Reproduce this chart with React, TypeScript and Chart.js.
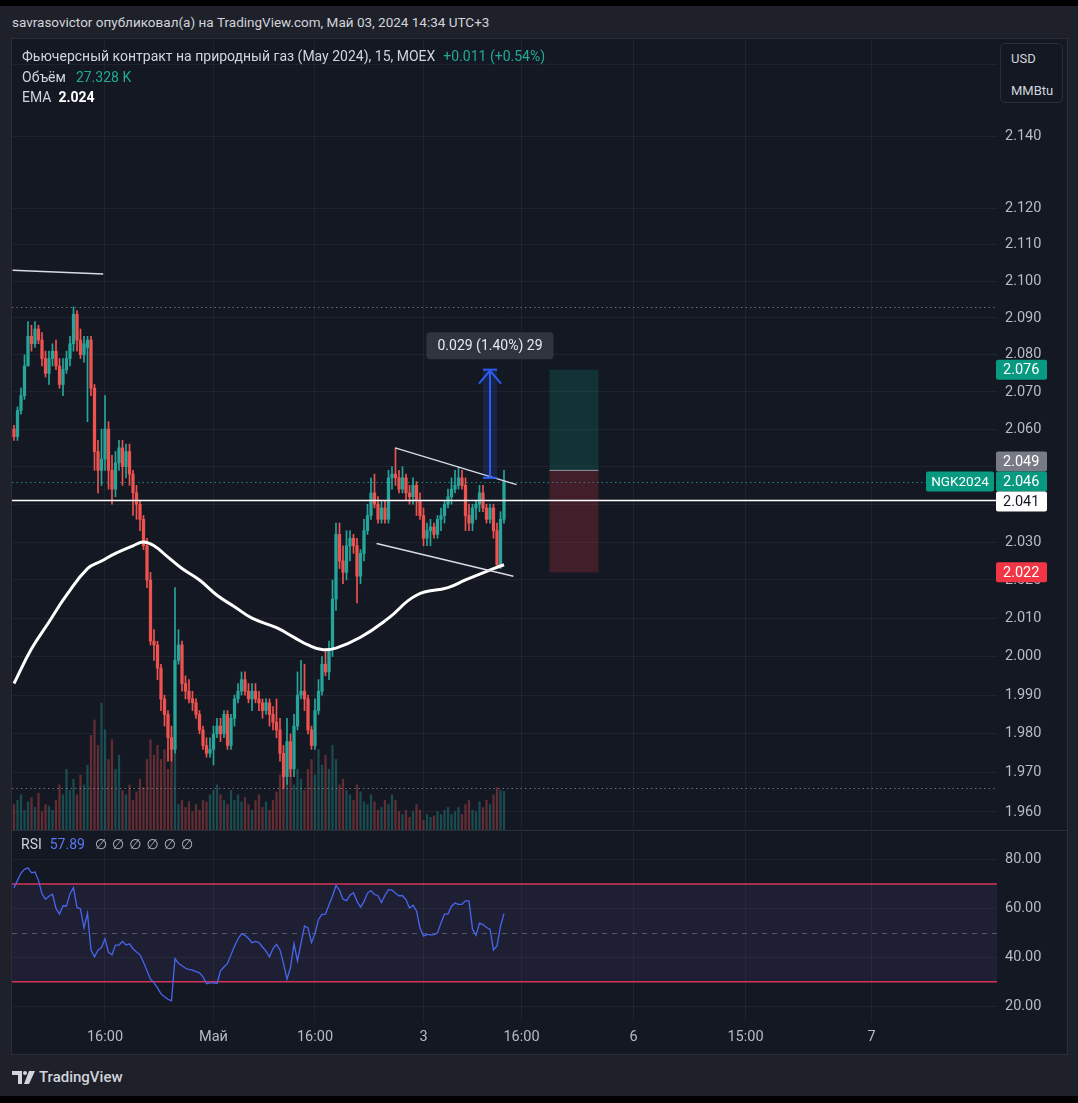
import React, { useEffect, useRef } from "react";
import { Chart, registerables } from "chart.js";

Chart.register(...registerables);

const FONT = "Roboto, 'Noto Sans', 'DejaVu Sans', sans-serif";

// ---------- DATA ----------
// 15-minute candles, [open, high, low, close]
const candles: [number, number, number, number][] = [
  [2.060, 2.061, 2.057, 2.058], [2.058, 2.066, 2.057, 2.065], [2.065, 2.071, 2.064, 2.069], [2.069, 2.080, 2.068, 2.077],
  [2.077, 2.089, 2.077, 2.085], [2.085, 2.088, 2.081, 2.083], [2.083, 2.089, 2.082, 2.087], [2.087, 2.088, 2.083, 2.084],
  [2.084, 2.086, 2.077, 2.079], [2.079, 2.081, 2.074, 2.075], [2.075, 2.081, 2.072, 2.079], [2.079, 2.083, 2.077, 2.081],
  [2.081, 2.084, 2.076, 2.077], [2.077, 2.079, 2.071, 2.072], [2.072, 2.079, 2.069, 2.076], [2.076, 2.081, 2.075, 2.079],
  [2.079, 2.085, 2.077, 2.083], [2.083, 2.093, 2.081, 2.091], [2.091, 2.092, 2.081, 2.084], [2.084, 2.087, 2.079, 2.080],
  [2.080, 2.085, 2.078, 2.083], [2.082, 2.085, 2.062, 2.084], [2.084, 2.085, 2.069, 2.071], [2.071, 2.072, 2.049, 2.054],
  [2.054, 2.057, 2.043, 2.049], [2.049, 2.060, 2.045, 2.052], [2.052, 2.069, 2.049, 2.060], [2.060, 2.062, 2.044, 2.049],
  [2.049, 2.053, 2.040, 2.044], [2.044, 2.054, 2.042, 2.051], [2.051, 2.057, 2.049, 2.055], [2.055, 2.057, 2.045, 2.050],
  [2.050, 2.056, 2.047, 2.054], [2.054, 2.056, 2.045, 2.048], [2.048, 2.049, 2.037, 2.043], [2.043, 2.045, 2.036, 2.040],
  [2.040, 2.041, 2.033, 2.036], [2.036, 2.037, 2.028, 2.029], [2.029, 2.031, 2.018, 2.020], [2.020, 2.022, 2.003, 2.004],
  [2.004, 2.007, 1.999, 2.003], [2.003, 2.004, 1.994, 1.997], [1.997, 1.998, 1.986, 1.989], [1.989, 1.990, 1.982, 1.985],
  [1.985, 1.986, 1.973, 1.979], [1.979, 1.982, 1.973, 1.976], [1.976, 2.018, 1.975, 1.999], [1.999, 2.007, 1.998, 2.003],
  [2.003, 2.004, 1.991, 1.993], [1.993, 1.995, 1.989, 1.991], [1.991, 1.994, 1.988, 1.989], [1.989, 1.991, 1.986, 1.988],
  [1.988, 1.989, 1.984, 1.985], [1.985, 1.986, 1.980, 1.981], [1.981, 1.982, 1.976, 1.977], [1.977, 1.979, 1.974, 1.975],
  [1.975, 1.979, 1.974, 1.976], [1.976, 1.982, 1.972, 1.980], [1.980, 1.984, 1.979, 1.982], [1.982, 1.984, 1.978, 1.980],
  [1.980, 1.986, 1.979, 1.985], [1.985, 1.986, 1.976, 1.977], [1.977, 1.985, 1.976, 1.984], [1.984, 1.990, 1.982, 1.989],
  [1.989, 1.993, 1.988, 1.991], [1.991, 1.996, 1.990, 1.994], [1.994, 1.996, 1.990, 1.991], [1.991, 1.993, 1.988, 1.989],
  [1.989, 1.993, 1.986, 1.991], [1.991, 1.993, 1.988, 1.989], [1.989, 1.991, 1.986, 1.988], [1.988, 1.989, 1.984, 1.986],
  [1.986, 1.989, 1.985, 1.988], [1.988, 1.989, 1.982, 1.985], [1.985, 1.987, 1.981, 1.983], [1.983, 1.989, 1.979, 1.981],
  [1.981, 1.984, 1.973, 1.975], [1.975, 1.977, 1.966, 1.969], [1.969, 1.984, 1.967, 1.978], [1.978, 1.980, 1.969, 1.971],
  [1.971, 1.985, 1.969, 1.982], [1.982, 1.996, 1.981, 1.990], [1.990, 1.999, 1.989, 1.991], [1.991, 1.998, 1.986, 1.989],
  [1.989, 1.990, 1.980, 1.981], [1.981, 1.982, 1.976, 1.977], [1.977, 1.989, 1.976, 1.986], [1.986, 1.994, 1.985, 1.991],
  [1.991, 2.000, 1.990, 1.998], [1.998, 2.002, 1.995, 1.996], [1.996, 2.004, 1.994, 2.002], [2.002, 2.020, 2.000, 2.015],
  [2.015, 2.035, 2.012, 2.032], [2.032, 2.035, 2.023, 2.025], [2.025, 2.029, 2.019, 2.022], [2.022, 2.033, 2.020, 2.029],
  [2.029, 2.033, 2.025, 2.031], [2.031, 2.032, 2.027, 2.029], [2.029, 2.031, 2.014, 2.021], [2.021, 2.028, 2.019, 2.027],
  [2.027, 2.036, 2.025, 2.033], [2.033, 2.040, 2.032, 2.037], [2.037, 2.047, 2.036, 2.043], [2.043, 2.048, 2.039, 2.040],
  [2.040, 2.042, 2.035, 2.036], [2.036, 2.041, 2.035, 2.039], [2.039, 2.041, 2.035, 2.036], [2.036, 2.049, 2.035, 2.047],
  [2.047, 2.050, 2.044, 2.048], [2.048, 2.055, 2.045, 2.047], [2.047, 2.049, 2.043, 2.044], [2.044, 2.050, 2.043, 2.047],
  [2.047, 2.048, 2.041, 2.043], [2.043, 2.045, 2.040, 2.042], [2.042, 2.047, 2.040, 2.045], [2.045, 2.046, 2.037, 2.041],
  [2.041, 2.043, 2.036, 2.037], [2.037, 2.039, 2.029, 2.031], [2.031, 2.035, 2.029, 2.033], [2.033, 2.036, 2.029, 2.034],
  [2.034, 2.035, 2.031, 2.032], [2.032, 2.037, 2.031, 2.036], [2.036, 2.039, 2.033, 2.037], [2.037, 2.041, 2.035, 2.040],
  [2.040, 2.044, 2.039, 2.042], [2.042, 2.047, 2.040, 2.044], [2.044, 2.049, 2.043, 2.045], [2.045, 2.050, 2.044, 2.047],
  [2.047, 2.049, 2.044, 2.045], [2.045, 2.047, 2.033, 2.037], [2.037, 2.040, 2.033, 2.035], [2.035, 2.040, 2.033, 2.039],
  [2.039, 2.041, 2.036, 2.040], [2.040, 2.045, 2.038, 2.043], [2.043, 2.045, 2.038, 2.039], [2.039, 2.040, 2.035, 2.036],
  [2.036, 2.040, 2.035, 2.039], [2.039, 2.040, 2.031, 2.033], [2.033, 2.035, 2.023, 2.024], [2.024, 2.038, 2.023, 2.036],
  [2.036, 2.049, 2.035, 2.046],
];

// volume per bar, thousands
const volumesK: number[] = [
  18, 21, 25, 14, 20, 23, 16, 26, 13, 18, 17, 14,
  21, 32, 25, 43, 28, 36, 25, 39, 32, 46,
  67, 78, 60, 90, 71, 50, 64, 43, 53,
  28, 25, 32, 21, 27, 36, 30, 50,
  64, 53, 60, 50, 57, 43, 62, 70,
  18, 21, 16, 20, 13, 18, 14, 21, 20, 25,
  28, 32, 25, 21, 18, 28, 21, 25, 20, 23,
  18, 14, 21, 25, 16, 20, 14, 21, 27,
  39, 46, 36, 53, 32, 43, 36, 28,
  43, 50, 39, 57, 46, 53, 43, 60, 50,
  32, 36, 28, 25, 21, 32, 27, 20,
  18, 25, 20, 14, 16, 21, 18, 25, 21, 13,
  11, 14, 9, 13, 18, 14, 7, 11, 9, 10, 13, 11, 14, 16, 11,
  13, 16, 11, 18, 21, 14, 13, 20, 16, 21, 18,
  25, 30, 28, 27.328,
];

// EMA sampled at bar indices
const emaBarIndex: number[] = [0, 5, 10, 15, 21, 25, 29, 34, 37, 40, 44, 48, 53, 58, 63, 68, 75, 80, 84, 88, 92, 99, 107, 115, 124, 129, 137, 140];
const emaValues: number[] = [1.993, 2.002, 2.009, 2.016, 2.023, 2.025, 2.027, 2.029, 2.030, 2.029, 2.026, 2.023, 2.020, 2.016, 2.013, 2.010, 2.0075, 2.005, 2.003, 2.0018, 2.0022, 2.005, 2.010, 2.016, 2.018, 2.020, 2.023, 2.024];

// RSI per bar
const rsiValues: number[] = [
  68.5, 71.5, 74.5, 76, 76.6, 74.6, 74.9, 71.5, 66, 63.8, 65, 65.8, 60, 57.7, 61.1, 61, 66, 68.5, 60.4, 59.8,
  52, 58, 43, 40.2, 42.9, 44, 47.6, 42, 41, 45, 45, 46.5, 45, 45.5, 43.5, 42.2, 41, 38, 34.5, 31,
  29.5, 27.5, 25, 23.8, 22.8, 22.2, 39.5, 37.5, 36.5, 35.5, 35, 34.7, 34.1, 33.6, 32, 29.2, 29.5, 29.5, 29.3, 34.5,
  36, 37.5, 41, 44.5, 47.5, 49.6, 49, 47.7, 46, 46.5, 46, 44.2, 42.5, 40.2, 43.6, 45.3, 43, 37.5, 31, 35.8,
  45.5, 38.5, 45.6, 52.8, 52, 46, 49.8, 55.5, 57.6, 57.7, 61.5, 65, 69.4, 67.4, 63.8, 63.2, 65.4, 66.4, 63, 60.5,
  62.8, 66.3, 67.3, 65.7, 65.2, 62.4, 65.4, 67.7, 67.5, 66.2, 65.2, 65.2, 63.6, 60.2, 61.3, 59, 52, 48.7, 49.4, 49.2,
  49.3, 50, 54, 57.7, 57.7, 60.9, 62.2, 61.7, 61.7, 63.1, 63.1, 51.5, 49, 54, 53.4, 52.2, 51.5, 43, 44.6, 52.7,
  57.89,
];

const timeTickIndex: number[] = [26, 57, 86, 117, 145, 177, 209, 245];
const timeTickLabels: string[] = ["16:00", "Май", "16:00", "3", "16:00", "6", "15:00", "7"];
const priceTicks: number[] = [2.16, 2.14, 2.12, 2.11, 2.10, 2.09, 2.08, 2.07, 2.06, 2.05, 2.04, 2.03, 2.02, 2.01, 2.00, 1.99, 1.98, 1.97, 1.96];
const hiddenPriceLabels: number[] = [2.05, 2.04];
const rsiTicks: number[] = [20, 40, 60, 80];

const sessionHigh = 2.093;
const sessionLow = 1.966;
const lastPrice = 2.046;
const levelLine = 2.041;
// drawings in (bar index, price)
const trendLines = [
  { x1: -0.4, p1: 2.103, x2: 25.5, p2: 2.102 },
  { x1: 108.9, p1: 2.055, x2: 143.6, p2: 2.0452 },
  { x1: 103.6, p1: 2.0296, x2: 142.7, p2: 2.021 },
];
const longPosition = { fromBar: 153, toBar: 167, target: 2.076, entry: 2.049, stop: 2.022 };
const measure = { fromBar: 134, toBar: 138, start: 2.047, end: 2.076, text: "0.029 (1.40%) 29" };
const axisMarks = [
  { value: 2.076, bg: "#089981", fg: "#ffffff", fixed: false, name: "" },
  { value: 2.049, bg: "#787b86", fg: "#ffffff", fixed: false, name: "" },
  { value: 2.046, bg: "#089981", fg: "#ffffff", fixed: true, name: "NGK2024" },
  { value: 2.041, bg: "#ffffff", fg: "#131722", fixed: false, name: "" },
  { value: 2.022, bg: "#f23645", fg: "#ffffff", fixed: false, name: "" },
];

const xView = { min: -0.57, max: 280.86 };
const priceView = { min: 1.9554, max: 2.1669 };
const rsiView = { min: 13.5, max: 91.3 };
const rsiBands = { upper: 70, middle: 50, lower: 30 };
const volumeMaxK = 560;

// ---------- STYLE ----------
const UP = "#26a69a";
const DOWN = "#ef5350";
const UP_VOL = "rgba(38,166,154,0.36)";
const DOWN_VOL = "rgba(239,83,80,0.36)";
const GRID = "rgba(255,255,255,0.05)";
const AXIS_TEXT = "#b8bbc3";
const CHART_BG = "#141823";
const OUTER_BG = "#1e2129";

function zeroPad(ax: any) {
  ax.paddingTop = 0;
  ax.paddingBottom = 0;
  ax.paddingLeft = 0;
  ax.paddingRight = 0;
}

function rr(ctx: CanvasRenderingContext2D, x: number, y: number, w: number, h: number, r: number) {
  ctx.beginPath();
  if ((ctx as any).roundRect) (ctx as any).roundRect(x, y, w, h, r);
  else ctx.rect(x, y, w, h);
}

function seg(ctx: CanvasRenderingContext2D, x1: number, y1: number, x2: number, y2: number) {
  ctx.beginPath();
  ctx.moveTo(x1, y1);
  ctx.lineTo(x2, y2);
  ctx.stroke();
}

const drawingsPlugin = {
  id: "drawings",
  afterDatasetsDraw(chart: any) {
    const { ctx, chartArea: a, scales } = chart;
    const px = (i: number) => scales.x.getPixelForValue(i);
    const py = (v: number) => scales.y.getPixelForValue(v);
    ctx.save();
    ctx.beginPath();
    ctx.rect(a.left, a.top, a.right - a.left, a.bottom - a.top);
    ctx.clip();

    // high / low dotted lines
    ctx.setLineDash([1.5, 3]);
    ctx.lineWidth = 1;
    ctx.strokeStyle = "rgba(178,181,190,0.55)";
    for (const v of [sessionHigh, sessionLow]) seg(ctx, a.left, Math.round(py(v)) + 0.5, a.right, Math.round(py(v)) + 0.5);
    // last price dotted line
    ctx.strokeStyle = "rgba(38,166,154,0.75)";
    seg(ctx, a.left, Math.round(py(lastPrice)) + 0.5, a.right, Math.round(py(lastPrice)) + 0.5);
    ctx.setLineDash([]);

    // long position
    const lx1 = px(longPosition.fromBar), lx2 = px(longPosition.toBar);
    const ty = py(longPosition.target), ey = py(longPosition.entry), sy = py(longPosition.stop);
    ctx.fillStyle = "rgba(8,153,129,0.2)";
    ctx.fillRect(lx1, ty, lx2 - lx1, ey - ty);
    ctx.fillStyle = "rgba(242,54,69,0.2)";
    ctx.fillRect(lx1, ey, lx2 - lx1, sy - ey);
    ctx.strokeStyle = "rgba(178,181,190,0.8)";
    ctx.lineWidth = 1;
    seg(ctx, lx1, ey, lx2, ey);

    // horizontal level
    ctx.strokeStyle = "#ffffff";
    ctx.lineWidth = 1.5;
    seg(ctx, a.left, py(levelLine), a.right, py(levelLine));

    // trend lines
    ctx.strokeStyle = "#d8dbe2";
    ctx.lineWidth = 1.5;
    for (const t of trendLines) seg(ctx, px(t.x1), py(t.p1), px(t.x2), py(t.p2));

    // measure
    const mx1 = px(measure.fromBar), mx2 = px(measure.toBar), mxc = (mx1 + mx2) / 2;
    const my1 = py(measure.start), my2 = py(measure.end);
    ctx.fillStyle = "rgba(41,98,255,0.16)";
    ctx.fillRect(mx1, my2, mx2 - mx1, my1 - my2);
    ctx.strokeStyle = "#2f5cf0";
    ctx.lineWidth = 2;
    seg(ctx, mx1, my1, mx2, my1);
    seg(ctx, mx1, my2, mx2, my2);
    seg(ctx, mxc, my1, mxc, my2);
    ctx.beginPath();
    ctx.moveTo(mxc - 11, my2 + 14);
    ctx.lineTo(mxc, my2 + 1);
    ctx.lineTo(mxc + 11, my2 + 14);
    ctx.stroke();
    ctx.font = `14px ${FONT}`;
    const tw = ctx.measureText(measure.text).width;
    const bw = tw + 22, bh = 27, bcy = my2 - 24;
    ctx.fillStyle = "#30343f";
    rr(ctx, mxc - bw / 2, bcy - bh / 2, bw, bh, 4);
    ctx.fill();
    ctx.fillStyle = "#e6e8ee";
    ctx.textAlign = "center";
    ctx.textBaseline = "middle";
    ctx.fillText(measure.text, mxc, bcy + 1);
    ctx.restore();
  },
  afterDraw(chart: any) {
    const { ctx, chartArea: a, scales } = chart;
    const y = scales.y;
    const fixed = axisMarks.find((m) => m.fixed)!;
    const fy = y.getPixelForValue(fixed.value);
    const bh = 20;
    ctx.save();
    ctx.textBaseline = "middle";
    for (const m of axisMarks) {
      let cy = y.getPixelForValue(m.value);
      if (!m.fixed && Math.abs(cy - fy) < bh) cy = cy < fy ? fy - bh : fy + bh;
      ctx.fillStyle = m.bg;
      rr(ctx, a.right - 1, cy - bh / 2, 51, bh, 2);
      ctx.fill();
      ctx.fillStyle = m.fg;
      ctx.textAlign = "left";
      ctx.font = `14.5px ${FONT}`;
      ctx.fillText(m.value.toFixed(3), a.right + 6, cy + 1);
      if (m.name) {
        ctx.fillStyle = m.bg;
        rr(ctx, a.right - 71, cy - bh / 2, 68, bh, 2);
        ctx.fill();
        ctx.fillStyle = m.fg;
        ctx.textAlign = "center";
        ctx.font = `13.5px ${FONT}`;
        ctx.fillText(m.name, a.right - 37, cy + 1);
      }
    }
    ctx.restore();
  },
};

const rsiPlugin = {
  id: "rsiBands",
  beforeDatasetsDraw(chart: any) {
    const { ctx, chartArea: a, scales } = chart;
    const py = (v: number) => scales.y.getPixelForValue(v);
    ctx.save();
    const yu = py(rsiBands.upper), yl = py(rsiBands.lower), ym = py(rsiBands.middle);
    ctx.fillStyle = "rgba(126,87,194,0.11)";
    ctx.fillRect(a.left, yu, a.right - a.left, yl - yu);
    ctx.strokeStyle = "rgba(120,123,134,0.6)";
    ctx.lineWidth = 1;
    ctx.setLineDash([5, 5]);
    seg(ctx, a.left, Math.round(ym) + 0.5, a.right, Math.round(ym) + 0.5);
    ctx.setLineDash([]);
    ctx.strokeStyle = "rgba(235,55,95,0.9)";
    ctx.lineWidth = 1.5;
    seg(ctx, a.left, yu, a.right, yu);
    seg(ctx, a.left, yl, a.right, yl);
    ctx.restore();
  },
};

export default function App() {
  const priceRef = useRef<HTMLCanvasElement>(null);
  const rsiRef = useRef<HTMLCanvasElement>(null);

  useEffect(() => {
    const upFlags = candles.map((c) => c[3] >= c[0]);
    const priceChart = new Chart(priceRef.current as HTMLCanvasElement, {
      type: "bar",
      data: {
        datasets: [
          {
            type: "line",
            label: "EMA",
            data: emaBarIndex.map((b, k) => ({ x: b, y: emaValues[k] })),
            borderColor: "#ffffff",
            borderWidth: 3,
            pointRadius: 0,
            tension: 0.45,
            yAxisID: "y",
            order: 0,
          } as any,
          {
            type: "bar",
            label: "body",
            data: candles.map((c, i) => ({ x: i, y: [c[0], c[3]] })),
            backgroundColor: upFlags.map((u) => (u ? UP : DOWN)),
            barThickness: 2.6,
            minBarLength: 1,
            grouped: false,
            borderWidth: 0,
            yAxisID: "y",
            order: 1,
          } as any,
          {
            type: "bar",
            label: "wick",
            data: candles.map((c, i) => ({ x: i, y: [c[2], c[1]] })),
            backgroundColor: upFlags.map((u) => (u ? UP : DOWN)),
            barThickness: 1,
            grouped: false,
            borderWidth: 0,
            yAxisID: "y",
            order: 2,
          } as any,
          {
            type: "bar",
            label: "volume",
            data: volumesK.map((v, i) => ({ x: i, y: v })),
            backgroundColor: upFlags.map((u) => (u ? UP_VOL : DOWN_VOL)),
            barThickness: 1.6,
            grouped: false,
            borderWidth: 0,
            yAxisID: "yVol",
            order: 3,
          } as any,
        ],
      },
      options: {
        responsive: false,
        animation: false,
        events: [],
        layout: { padding: 0, autoPadding: false } as any,
        plugins: { legend: { display: false }, tooltip: { enabled: false } },
        scales: {
          x: {
            type: "linear",
            min: xView.min,
            max: xView.max,
            offset: false,
            bounds: "data",
            grid: { color: GRID, offset: false, drawTicks: false },
            border: { display: false },
            ticks: { display: false },
            afterBuildTicks: (ax: any) => {
              ax.ticks = timeTickIndex.map((v) => ({ value: v }));
            },
            afterFit: (ax: any) => {
              ax.height = 0;
              zeroPad(ax);
            },
          } as any,
          y: {
            type: "logarithmic",
            position: "right",
            min: priceView.min,
            max: priceView.max,
            bounds: "data",
            grid: { color: GRID, drawTicks: false },
            border: { display: false },
            ticks: {
              color: AXIS_TEXT,
              font: { family: FONT, size: 14.5 },
              padding: 8,
              autoSkip: false,
              callback: (v: any) => (hiddenPriceLabels.includes(Number(v)) ? "" : Number(v).toFixed(3)),
            },
            afterBuildTicks: (ax: any) => {
              ax.ticks = priceTicks.map((v) => ({ value: v }));
            },
            afterFit: (ax: any) => {
              ax.width = 69;
              zeroPad(ax);
            },
          } as any,
          yVol: { type: "linear", display: false, min: 0, max: volumeMaxK } as any,
        },
      },
      plugins: [drawingsPlugin],
    });

    const rsiChart = new Chart(rsiRef.current as HTMLCanvasElement, {
      type: "line",
      data: {
        datasets: [
          {
            label: "RSI",
            data: rsiValues.map((v, i) => ({ x: i, y: v })),
            borderColor: "#4766ee",
            borderWidth: 1.3,
            pointRadius: 0,
            tension: 0,
          },
        ],
      },
      options: {
        responsive: false,
        animation: false,
        events: [],
        layout: { padding: { top: 1, left: 0, right: 0, bottom: 0 }, autoPadding: false } as any,
        plugins: { legend: { display: false }, tooltip: { enabled: false } },
        scales: {
          x: {
            type: "linear",
            min: xView.min,
            max: xView.max,
            offset: false,
            bounds: "data",
            grid: { color: GRID, drawTicks: false },
            border: { display: false },
            ticks: {
              color: AXIS_TEXT,
              font: { family: FONT, size: 14.5 },
              padding: 7,
              autoSkip: false,
              maxRotation: 0,
              callback: (_v: any, idx: number) => timeTickLabels[idx],
            },
            afterBuildTicks: (ax: any) => {
              ax.ticks = timeTickIndex.map((v) => ({ value: v }));
            },
            afterFit: (ax: any) => {
              ax.height = 30;
              zeroPad(ax);
            },
          } as any,
          y: {
            type: "linear",
            position: "right",
            min: rsiView.min,
            max: rsiView.max,
            bounds: "data",
            grid: { color: GRID, drawTicks: false },
            border: { display: false },
            ticks: {
              color: AXIS_TEXT,
              font: { family: FONT, size: 14.5 },
              padding: 8,
              autoSkip: false,
              callback: (v: any) => Number(v).toFixed(2),
            },
            afterBuildTicks: (ax: any) => {
              ax.ticks = rsiTicks.map((v) => ({ value: v }));
            },
            afterFit: (ax: any) => {
              ax.width = 69;
              zeroPad(ax);
            },
          } as any,
        },
      },
      plugins: [rsiPlugin],
    });

    return () => {
      priceChart.destroy();
      rsiChart.destroy();
    };
  }, []);

  const txt = "#d1d4dc";
  const teal = "#22ab94";
  const abs = (extra: any) => ({ position: "absolute" as const, whiteSpace: "nowrap" as const, ...extra });

  return (
    <div style={{ position: "fixed", left: 0, top: 0, width: 1078, height: 1103, background: "#000", overflow: "hidden", fontFamily: FONT }}>
      <div style={abs({ left: 0, top: 6, width: 1078, height: 1090, background: OUTER_BG })} />
      <div style={abs({ left: 12, top: 13, fontSize: 13.5, lineHeight: "18px", color: txt })}>
        savrasovictor опубликовал(а) на TradingView.com, Май 03, 2024 14:34 UTC+3
      </div>
      <div style={abs({ left: 11, top: 38, width: 1055, height: 1015, background: CHART_BG, border: "1px solid #2a2e39" })} />
      <canvas ref={priceRef} width={1054} height={790} style={{ position: "absolute", left: 12, top: 40 }} />
      <div style={abs({ left: 12, top: 830, width: 1055, height: 1, background: "#2a2e39" })} />
      <canvas ref={rsiRef} width={1054} height={221} style={{ position: "absolute", left: 12, top: 831 }} />

      <div style={abs({ left: 22, top: 47, fontSize: 14, lineHeight: "18px", color: txt })}>
        Фьючерсный контракт на природный газ (May 2024), 15, MOEX
        <span style={{ color: teal, marginLeft: 8 }}>+0.011 (+0.54%)</span>
      </div>
      <div style={abs({ left: 22, top: 68, fontSize: 14, lineHeight: "18px", color: txt })}>
        Объём<span style={{ color: teal, marginLeft: 10 }}>27.328 K</span>
      </div>
      <div style={abs({ left: 22, top: 88, fontSize: 14, lineHeight: "18px", color: txt })}>
        EMA<span style={{ color: "#ffffff", fontWeight: 700, marginLeft: 7 }}>2.024</span>
      </div>

      <div style={abs({ left: 1000, top: 43, width: 61, height: 58, border: "1px solid #2a2e39", borderRadius: 5, background: CHART_BG, color: txt, fontSize: 13 })}>
        <div style={{ position: "absolute", left: 10, top: 7 }}>USD</div>
        <div style={{ position: "absolute", left: 10, top: 39 }}>MMBtu</div>
      </div>

      <div style={abs({ left: 21, top: 835, fontSize: 14, lineHeight: "18px", color: txt })}>
        RSI<span style={{ color: "#5b78f6", marginLeft: 8 }}>57.89</span>
        <span style={{ color: "#b2b5be", marginLeft: 10, letterSpacing: 5 }}>∅∅∅∅∅∅</span>
      </div>

      <div style={abs({ left: 12, top: 1068, display: "flex", alignItems: "center", color: txt })}>
        <svg width="24" height="15" viewBox="0 0 24 15">
          <path d="M0 1h10v13H6V5H0z" fill={txt} />
          <circle cx="13" cy="3" r="2" fill={txt} />
          <path d="M17 1h6l-6 13h-5z" fill={txt} />
        </svg>
        <span style={{ fontSize: 15, fontWeight: 500, marginLeft: 3 }}>TradingView</span>
      </div>
    </div>
  );
}
